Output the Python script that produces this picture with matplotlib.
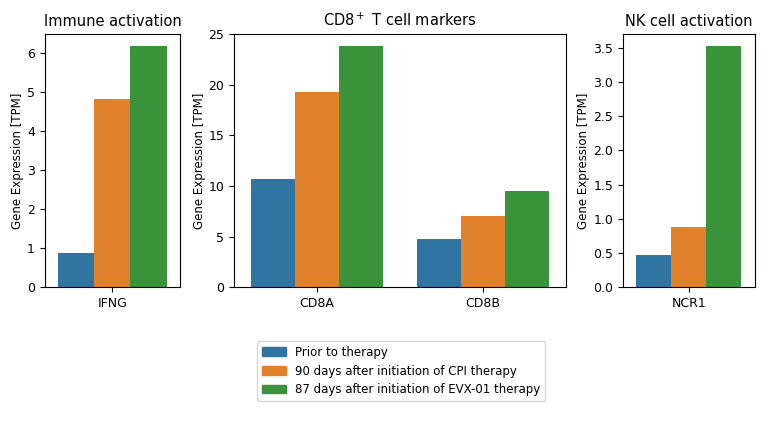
import numpy as np
import matplotlib
matplotlib.use("Agg")
import matplotlib.pyplot as plt
from matplotlib.patches import Patch

groups = ["Prior to therapy",
          "90 days after initiation of CPI therapy",
          "87 days after initiation of EVX-01 therapy"]
colors = ["#3274a1", "#e1812c", "#3a923a"]

immune_genes = ["IFNG"]
immune_vals = [[0.88], [4.82], [6.17]]

cd8_genes = ["CD8A", "CD8B"]
cd8_vals = [[10.7, 4.8], [19.3, 7.0], [23.8, 9.5]]

nk_genes = ["NCR1"]
nk_vals = [[0.47], [0.88], [3.52]]

titles = ["Immune activation", "CD8$^+$ T cell markers", "NK cell activation"]

fig = plt.figure(figsize=(7.7, 4.28), dpi=100)
ax1 = fig.add_axes([0.058, 0.329, 0.176, 0.591])
ax2 = fig.add_axes([0.304, 0.329, 0.431, 0.591])
ax3 = fig.add_axes([0.809, 0.329, 0.171, 0.591])

def draw(ax, genes, vals, title):
    x = np.arange(len(genes))
    w = 0.8 / 3
    for k in range(3):
        ax.bar(x - 0.4 + w * (k + 0.5), vals[k], w, color=colors[k])
    ax.set_xticks(x)
    ax.set_xticklabels(genes, fontsize=9)
    ax.set_xlim(-0.5, len(genes) - 0.5)
    ax.set_ylabel("Gene Expression [TPM]", fontsize=8.5, labelpad=2)
    ax.set_title(title, fontsize=10.5)
    ax.tick_params(axis="y", labelsize=9)

draw(ax1, immune_genes, immune_vals, titles[0])
draw(ax2, cd8_genes, cd8_vals, titles[1])
draw(ax3, nk_genes, nk_vals, titles[2])
ax2.set_ylim(0, 25)

handles = [Patch(color=colors[k], label=groups[k]) for k in range(3)]
fig.legend(handles=handles, loc="center", bbox_to_anchor=(0.521, 0.133), fontsize=8.5)

fig.savefig("out.png", dpi=100)
